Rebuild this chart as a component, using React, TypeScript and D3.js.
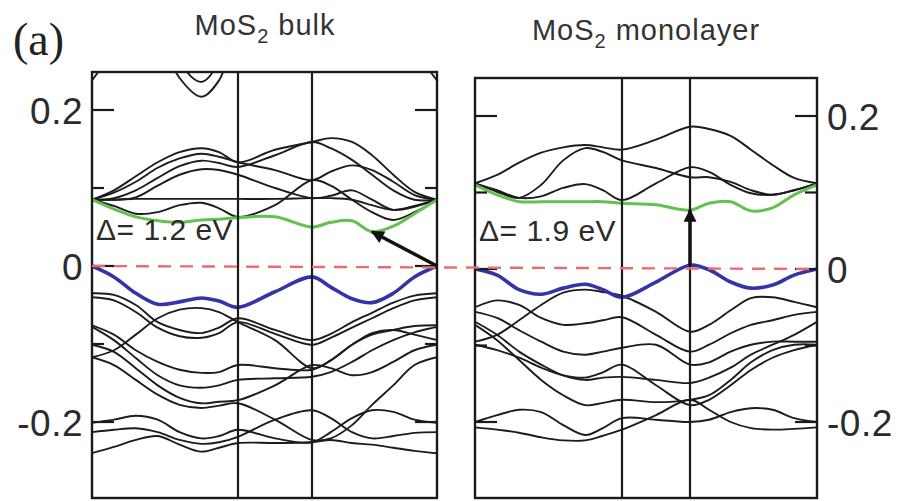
import { useEffect, useRef } from 'react';
import * as d3 from 'd3';

// k path: 0 = Γ, 1 = M, 2 = K, 3 = Γ (piecewise, each panel maps its own widths)
const kGrid = [0, 0.15, 0.3, 0.45, 0.6, 0.75, 0.87, 1, 1.5, 2, 2.15, 2.32, 2.48, 2.65, 2.82, 3];
const kSymmetry = [1, 2];
const majorTicks = [-0.2, 0, 0.2];
const minorTicks = [-0.1, 0.1];
const tickLabels = ['-0.2', '0', '0.2'];

// ---- MoS2 bulk ----
const bulkGreen = [0.085, 0.073, 0.063, 0.058, 0.056, 0.059, 0.06, 0.062, 0.063, 0.05, 0.056, 0.058, 0.044, 0.051, 0.067, 0.085];
const bulkBlue = [0, -0.014, -0.035, -0.049, -0.046, -0.041, -0.045, -0.053, -0.033, -0.014, -0.027, -0.042, -0.047, -0.035, -0.014, 0];
const bulkConduction = [
  [0.085, 0.077, 0.067, 0.069, 0.078, 0.081, 0.074, 0.063, 0.078, 0.11, 0.103, 0.085, 0.069, 0.059, 0.069, 0.085],
  [0.085, 0.085, 0.086, 0.086, 0.086, 0.086, 0.086, 0.086, 0.086, 0.087, 0.087, 0.085, 0.078, 0.072, 0.077, 0.085],
  [0.085, 0.097, 0.115, 0.133, 0.146, 0.151, 0.146, 0.133, 0.149, 0.159, 0.164, 0.159, 0.142, 0.117, 0.095, 0.085],
  [0.085, 0.094, 0.108, 0.126, 0.138, 0.144, 0.14, 0.133, 0.123, 0.11, 0.121, 0.129, 0.123, 0.108, 0.091, 0.085],
  [0.085, 0.087, 0.097, 0.113, 0.128, 0.135, 0.132, 0.127, 0.142, 0.159, 0.151, 0.136, 0.117, 0.097, 0.085, 0.085],
  [0.085, 0.085, 0.088, 0.103, 0.117, 0.124, 0.123, 0.117, 0.1, 0.087, 0.09, 0.097, 0.085, 0.072, 0.076, 0.085],
];
// bands just above the window top (only their dips are visible)
const bulkHigh = [
  [0.35, 0.35, 0.35, 0.3, 0.241, 0.217, 0.238, 0.3, 0.35, 0.35, 0.35, 0.35, 0.35, 0.35, 0.35, 0.35],
  [0.35, 0.35, 0.35, 0.35, 0.262, 0.236, 0.262, 0.35, 0.35, 0.35, 0.35, 0.35, 0.35, 0.35, 0.35, 0.35],
  [0.238, 0.28, 0.35, 0.35, 0.35, 0.35, 0.35, 0.35, 0.35, 0.35, 0.35, 0.35, 0.35, 0.35, 0.28, 0.238],
];
const bulkValence = [
  [-0.035, -0.037, -0.05, -0.072, -0.082, -0.086, -0.079, -0.067, -0.082, -0.095, -0.087, -0.072, -0.06, -0.047, -0.038, -0.035],
  [-0.04, -0.044, -0.059, -0.079, -0.09, -0.092, -0.086, -0.072, -0.087, -0.101, -0.092, -0.079, -0.067, -0.054, -0.044, -0.04],
  [-0.117, -0.108, -0.088, -0.067, -0.056, -0.054, -0.059, -0.072, -0.095, -0.131, -0.121, -0.101, -0.086, -0.082, -0.088, -0.095],
  [-0.076, -0.088, -0.108, -0.123, -0.133, -0.137, -0.136, -0.127, -0.131, -0.133, -0.121, -0.101, -0.088, -0.082, -0.077, -0.076],
  [-0.078, -0.095, -0.118, -0.14, -0.153, -0.156, -0.153, -0.146, -0.144, -0.142, -0.136, -0.123, -0.108, -0.095, -0.085, -0.078],
  [-0.101, -0.11, -0.131, -0.153, -0.169, -0.176, -0.174, -0.172, -0.153, -0.127, -0.131, -0.14, -0.136, -0.123, -0.108, -0.101],
  [-0.117, -0.127, -0.146, -0.165, -0.178, -0.182, -0.179, -0.176, -0.197, -0.223, -0.221, -0.204, -0.178, -0.153, -0.127, -0.117],
  [-0.201, -0.197, -0.192, -0.197, -0.213, -0.221, -0.218, -0.21, -0.221, -0.226, -0.213, -0.195, -0.185, -0.187, -0.197, -0.201],
  [-0.213, -0.21, -0.208, -0.213, -0.223, -0.228, -0.226, -0.219, -0.197, -0.185, -0.195, -0.213, -0.221, -0.218, -0.214, -0.213],
  [-0.24, -0.232, -0.223, -0.218, -0.229, -0.238, -0.233, -0.227, -0.227, -0.226, -0.223, -0.227, -0.229, -0.233, -0.237, -0.24],
];
const bulkArrowK = [3, 2.48];
const bulkArrowE = [0, 0.044];

// ---- MoS2 monolayer ----
const monoGreen = [0.11, 0.097, 0.088, 0.088, 0.088, 0.088, 0.088, 0.086, 0.084, 0.077, 0.086, 0.088, 0.076, 0.08, 0.097, 0.11];
const monoBlue = [0, -0.008, -0.027, -0.033, -0.025, -0.02, -0.027, -0.037, -0.017, 0.005, -0.001, -0.017, -0.025, -0.021, -0.008, 0];
const monoConduction = [
  [0.112, 0.103, 0.093, 0.095, 0.106, 0.111, 0.103, 0.09, 0.112, 0.133, 0.127, 0.11, 0.099, 0.097, 0.103, 0.112],
  [0.112, 0.123, 0.139, 0.152, 0.159, 0.162, 0.159, 0.156, 0.169, 0.186, 0.183, 0.174, 0.156, 0.136, 0.119, 0.112],
  [0.112, 0.101, 0.093, 0.11, 0.142, 0.158, 0.153, 0.142, 0.132, 0.12, 0.12, 0.114, 0.103, 0.097, 0.103, 0.112],
];
const monoValence = [
  [-0.05, -0.041, -0.047, -0.064, -0.073, -0.071, -0.067, -0.063, -0.086, -0.108, -0.099, -0.084, -0.073, -0.067, -0.06, -0.056],
  [-0.056, -0.064, -0.08, -0.095, -0.108, -0.112, -0.108, -0.103, -0.099, -0.125, -0.122, -0.108, -0.099, -0.095, -0.095, -0.095],
  [-0.095, -0.086, -0.067, -0.047, -0.031, -0.027, -0.03, -0.035, -0.056, -0.082, -0.073, -0.054, -0.038, -0.037, -0.043, -0.05],
  [-0.069, -0.086, -0.108, -0.125, -0.139, -0.145, -0.142, -0.141, -0.145, -0.149, -0.142, -0.129, -0.112, -0.099, -0.086, -0.069],
  [-0.073, -0.093, -0.119, -0.145, -0.165, -0.178, -0.175, -0.171, -0.174, -0.171, -0.165, -0.145, -0.122, -0.106, -0.099, -0.099],
  [-0.099, -0.106, -0.116, -0.129, -0.139, -0.142, -0.135, -0.125, -0.152, -0.178, -0.171, -0.152, -0.132, -0.116, -0.106, -0.099],
  [-0.2, -0.191, -0.184, -0.187, -0.204, -0.217, -0.208, -0.195, -0.197, -0.2, -0.197, -0.187, -0.182, -0.184, -0.195, -0.2],
  [-0.207, -0.21, -0.214, -0.22, -0.224, -0.224, -0.218, -0.21, -0.191, -0.171, -0.184, -0.2, -0.208, -0.21, -0.209, -0.207],
];
const monoArrowK = [2, 2];
const monoArrowE = [0.005, 0.077];

const SANS = 'Liberation Sans, Arial, Helvetica, sans-serif';

export default function App() {
  const svgRef = useRef<SVGSVGElement>(null);

  useEffect(() => {
    if (!svgRef.current) return;
    const svg = d3.select(svgRef.current);
    svg.selectAll('*').remove();

    const defs = svg.append('defs');
    defs
      .append('marker')
      .attr('id', 'head')
      .attr('viewBox', '0 0 10 10')
      .attr('refX', 9)
      .attr('refY', 5)
      .attr('markerUnits', 'userSpaceOnUse')
      .attr('markerWidth', 15)
      .attr('markerHeight', 13)
      .attr('orient', 'auto')
      .append('path')
      .attr('d', 'M0,0L10,5L0,10Z')
      .attr('fill', '#111');

    const panels = [
      {
        id: 'bulk',
        title: 'bulk',
        titleX: 265,
        titleY: 35,
        xr: [92, 238, 312, 437],
        top: 72,
        yRange: [422, 110],
        green: bulkGreen,
        blue: bulkBlue,
        bands: [...bulkHigh, ...bulkConduction, ...bulkValence],
        gap: 'Δ= 1.2 eV',
        gapY: 240,
        arrowK: bulkArrowK,
        arrowE: bulkArrowE,
        labelSide: 'left',
      },
      {
        id: 'mono',
        title: 'monolayer',
        titleX: 646,
        titleY: 40,
        xr: [475, 622, 690, 817],
        top: 78,
        yRange: [422, 116],
        green: monoGreen,
        blue: monoBlue,
        bands: [...monoConduction, ...monoValence],
        gap: 'Δ= 1.9 eV',
        gapY: 241,
        arrowK: monoArrowK,
        arrowE: monoArrowE,
        labelSide: 'right',
      },
    ];
    const bottom = 498;
    const zeros: number[] = [];

    panels.forEach(p => {
      const x = d3.scaleLinear().domain([0, 1, 2, 3]).range(p.xr);
      const y = d3.scaleLinear().domain([-0.2, 0.2]).range(p.yRange);
      zeros.push(y(0));
      const x0 = p.xr[0];
      const x1 = p.xr[3];

      defs
        .append('clipPath')
        .attr('id', `clip-${p.id}`)
        .append('rect')
        .attr('x', x0)
        .attr('y', p.top)
        .attr('width', x1 - x0)
        .attr('height', bottom - p.top);

      const g = svg.append('g');
      const inner = g.append('g').attr('clip-path', `url(#clip-${p.id})`);

      const line = d3
        .line<number>()
        .x((_, i) => x(kGrid[i]))
        .y(d => y(d))
        .curve(d3.curveCatmullRom.alpha(0.5));

      inner
        .selectAll('path.band')
        .data(p.bands)
        .enter()
        .append('path')
        .attr('class', 'band')
        .attr('d', d => line(d))
        .attr('fill', 'none')
        .attr('stroke', '#1c1c1c')
        .attr('stroke-width', 1.9);

      inner
        .append('path')
        .attr('d', line(p.green))
        .attr('fill', 'none')
        .attr('stroke', '#63c24f')
        .attr('stroke-width', 3);

      inner
        .append('path')
        .attr('d', line(p.blue))
        .attr('fill', 'none')
        .attr('stroke', '#3434a6')
        .attr('stroke-width', 3.6);

      // symmetry lines
      g.selectAll('line.sym')
        .data(kSymmetry)
        .enter()
        .append('line')
        .attr('x1', d => x(d))
        .attr('x2', d => x(d))
        .attr('y1', p.top)
        .attr('y2', bottom)
        .attr('stroke', '#1a1a1a')
        .attr('stroke-width', 2.2);

      // ticks on both inner sides
      const ticks = [
        ...majorTicks.map(v => ({ v, len: 22 })),
        ...minorTicks.map(v => ({ v, len: 12 })),
      ];
      ticks.forEach(t => {
        g.append('line')
          .attr('x1', x0)
          .attr('x2', x0 + t.len)
          .attr('y1', y(t.v))
          .attr('y2', y(t.v))
          .attr('stroke', '#1a1a1a')
          .attr('stroke-width', 2.2);
        g.append('line')
          .attr('x1', x1 - t.len)
          .attr('x2', x1)
          .attr('y1', y(t.v))
          .attr('y2', y(t.v))
          .attr('stroke', '#1a1a1a')
          .attr('stroke-width', 2.2);
      });

      g.append('rect')
        .attr('x', x0)
        .attr('y', p.top)
        .attr('width', x1 - x0)
        .attr('height', bottom - p.top)
        .attr('fill', 'none')
        .attr('stroke', '#1a1a1a')
        .attr('stroke-width', 2.4);

      // tick labels
      g.selectAll('text.tl')
        .data(majorTicks)
        .enter()
        .append('text')
        .attr('x', p.labelSide === 'left' ? x0 - 9 : x1 + 10)
        .attr('y', d => y(d) + 14)
        .attr('text-anchor', p.labelSide === 'left' ? 'end' : 'start')
        .attr('font-family', SANS)
        .attr('font-size', 37)
        .attr('letter-spacing', 0.5)
        .attr('fill', '#2b2b2b')
        .text((_, i) => tickLabels[i]);

      // title
      const title = g
        .append('text')
        .attr('x', p.titleX)
        .attr('y', p.titleY)
        .attr('text-anchor', 'middle')
        .attr('font-family', SANS)
        .attr('font-size', 29)
        .attr('letter-spacing', 1)
        .attr('fill', '#333');
      title.append('tspan').text('MoS');
      title.append('tspan').attr('font-size', 20).attr('dy', 8).text('2');
      title.append('tspan').attr('dy', -8).text(' ' + p.title);

      // gap label
      g.append('text')
        .attr('x', x0 + 4)
        .attr('y', p.gapY)
        .attr('font-family', SANS)
        .attr('font-size', 30)
        .attr('letter-spacing', 0.5)
        .attr('fill', '#2b2b2b')
        .text(p.gap);

      // gap arrow
      g.append('line')
        .attr('x1', x(p.arrowK[0]))
        .attr('y1', y(p.arrowE[0]))
        .attr('x2', x(p.arrowK[1]))
        .attr('y2', y(p.arrowE[1]))
        .attr('stroke', '#111')
        .attr('stroke-width', 3.5)
        .attr('marker-end', 'url(#head)');
    });

    // Fermi level dashed line across both panels
    svg
      .append('line')
      .attr('x1', panels[0].xr[0])
      .attr('x2', panels[1].xr[3])
      .attr('y1', zeros[0])
      .attr('y2', zeros[1])
      .attr('stroke', '#ef6a6a')
      .attr('stroke-width', 2.4)
      .attr('stroke-dasharray', '13,9');

    svg
      .append('text')
      .attr('x', 13)
      .attr('y', 55)
      .attr('font-family', 'Liberation Serif, Times New Roman, serif')
      .attr('font-size', 46)
      .attr('fill', '#222')
      .text('(a)');
  }, []);

  return (
    <svg
      ref={svgRef}
      width={899}
      height={501}
      style={{ position: 'absolute', left: 0, top: 0, background: '#fff' }}
    />
  );
}
